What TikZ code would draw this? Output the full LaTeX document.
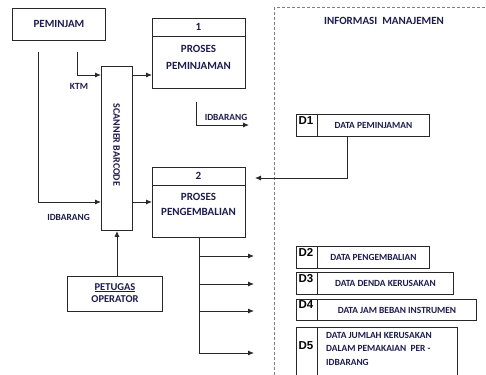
\documentclass[tikz,border=0pt]{standalone}
\usepackage{fontspec}
\setmainfont{Carlito}
\newfontfamily\dfont{Liberation Sans}
\usetikzlibrary{arrows.meta}
\definecolor{txt}{RGB}{28,28,78}
\definecolor{lnc}{RGB}{40,40,40}
\begin{document}
\begin{tikzpicture}[x=1pt,y=-1pt,
  box/.style={draw=lnc, line width=0.9pt, fill=white, inner sep=0pt, text=txt},
  big/.style={text=txt, font=\bfseries\fontsize{11}{17}\selectfont, inner sep=0pt},
  dlab/.style={text=black, font=\dfont\bfseries\fontsize{11.5}{13}\selectfont, inner sep=0pt},
  dtext/.style={font=\bfseries\fontsize{9.4}{11}\selectfont},
  small/.style={text=txt, font=\bfseries\fontsize{9.4}{13.5}\selectfont, inner sep=0pt},
  wire/.style={draw=lnc, line width=0.9pt},
  arr/.style={wire, -{Latex[length=6pt,width=5pt]}}]
\useasboundingbox (0,0) rectangle (486,374);
\clip (0,0) rectangle (486,374);

% dashed frame
\draw[draw=gray, line width=1pt, dash pattern=on 3pt off 2pt] (500,8) -- (274,8) -- (274,400);
\node[big] (info) at (384,21) {INFORMASI\ \ MANAJEMEN};

% external entity
\node[box, minimum width=93pt, minimum height=32pt, anchor=north west, font=\bfseries\fontsize{11}{13}\selectfont] (pem) at (12,8) {PEMINJAM};

% process 1
\node[box, minimum width=93pt, minimum height=70pt, anchor=north west] (p1) at (152,18) {};
\draw[wire] (152,36) -- (245,36);
\node[big] (p1n) at (198.5,27) {1};
\node[big, align=center] (p1t) at (198.5,57) {PROSES\\PEMINJAMAN};

% process 2
\node[box, minimum width=93pt, minimum height=70pt, anchor=north west] (p2) at (152,167) {};
\draw[wire] (152,185) -- (245,185);
\node[big] (p2n) at (198.5,176) {2};
\node[big, align=center, font=\bfseries\fontsize{11}{15}\selectfont] (p2t) at (198.5,204.5) {PROSES\\PENGEMBALIAN};

% scanner
\node[box, minimum width=31pt, minimum height=164pt, anchor=north west] (scan) at (101,66) {};
\node[big, rotate=-90, font=\bfseries\fontsize{10}{12}\selectfont] (scant) at (116.5,145) {SCANNER BARCODE};

% petugas
\node[box, minimum width=95pt, minimum height=35pt, anchor=north west] (pet) at (67,276) {};
\node[big, align=center, font=\bfseries\fontsize{10.5}{12.5}\selectfont] (pett) at (115,293) {\underline{PETUGAS}\\OPERATOR};

% data stores
\node[box, minimum width=21pt, minimum height=22pt, anchor=north west] (d1i) at (296,114) {};
\node[box, dtext, minimum width=112pt, minimum height=22pt, anchor=north west] (d1t) at (317,114) {DATA PEMINJAMAN};
\node[dlab] (d1l) at (306,120.5) {D1};

\node[box, minimum width=21pt, minimum height=22pt, anchor=north west] (d2i) at (296,246) {};
\node[box, dtext, minimum width=112pt, minimum height=22pt, anchor=north west] (d2t) at (317,246) {DATA PENGEMBALIAN};
\node[dlab] (d2l) at (306,252.5) {D2};

\node[box, minimum width=21pt, minimum height=22pt, anchor=north west] (d3i) at (296,272) {};
\node[box, dtext, minimum width=136pt, minimum height=22pt, anchor=north west] (d3t) at (317,272) {DATA DENDA KERUSAKAN};
\node[dlab] (d3l) at (306,279) {D3};

\node[box, minimum width=21pt, minimum height=21pt, anchor=north west] (d4i) at (296,299) {};
\node[box, dtext, minimum width=159pt, minimum height=21pt, anchor=north west] (d4t) at (317,299) {DATA JAM BEBAN INSTRUMEN};
\node[dlab] (d4l) at (306,305) {D4};

\node[box, minimum width=21pt, minimum height=70pt, anchor=north west] (d5i) at (296,327) {};
\node[box, minimum width=140pt, minimum height=70pt, anchor=north west] (d5t) at (317,327) {};
\node[dlab] (d5l) at (306,346) {D5};
\node[small, align=left, anchor=north west] (d5x) at (326,332) {DATA JUMLAH KERUSAKAN\\DALAM PEMAKAIAN~~PER -\\IDBARANG};

% connectors
\coordinate (lvA) at (0,75);
\coordinate (lvB) at (0,202);
\coordinate (ktm0) at (77,52);
\coordinate (idb0) at (38,52);
\draw[arr] (ktm0) |- (scan.west |- lvA);
\node[small] (ktm) at (79,86) {KTM};
\draw[arr] (idb0) |- (scan.west |- lvB);
\node[small] (idbl) at (68.5,217.5) {IDBARANG};
\draw[arr] (scan.east |- lvA) -- (p1.west |- lvA);
\draw[arr] (scan.east |- lvB) -- (p2.west |- lvB);
\draw[arr] (scan.south |- pet.north) -- (scan.south);

\coordinate (i1) at (196,102);
\coordinate (i2) at (249,125);
\draw[arr] (i1) |- (i2);
\node[small] (idb2) at (226,117.5) {IDBARANG};

\coordinate (d1a) at (347,136);
\coordinate (d1b) at (255,178);
\draw[arr] (d1a) |- (d1b);

\coordinate (o1) at (254,256);
\coordinate (o2) at (254,284);
\coordinate (o3) at (254,311);
\coordinate (o4) at (254,353);
\draw[wire] (p2.south) -- (p2.south |- o4);
\draw[arr] (p2.south |- o1) -- (o1);
\draw[arr] (p2.south |- o2) -- (o2);
\draw[arr] (p2.south |- o3) -- (o3);
\draw[arr] (p2.south |- o4) -- (o4);
\end{tikzpicture}
\end{document}
